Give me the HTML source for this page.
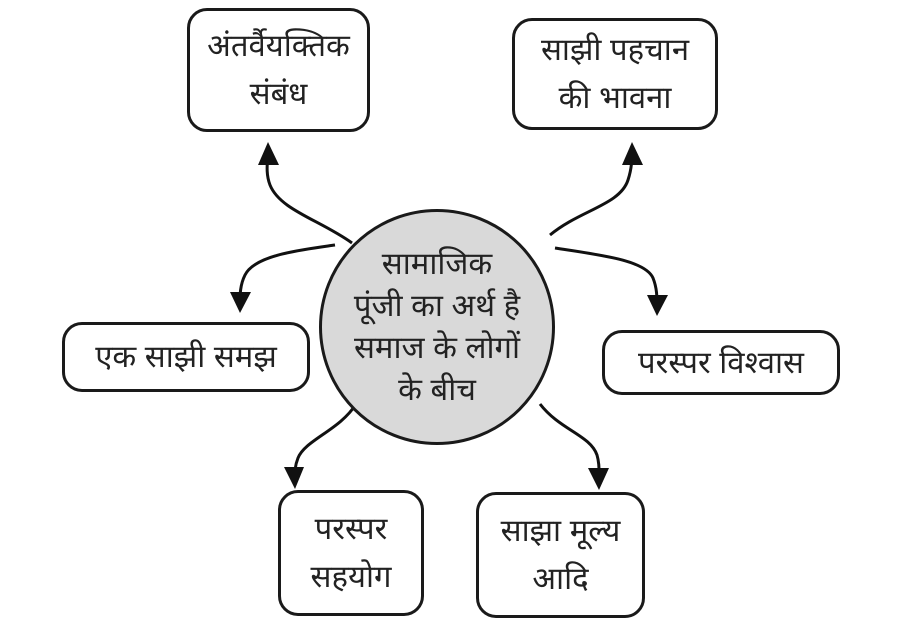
<!DOCTYPE html>
<html><head><meta charset="utf-8"><style>
html,body{margin:0;padding:0;background:#fff;}
body{width:905px;height:628px;position:relative;overflow:hidden;font-family:"Liberation Sans",sans-serif;}
.b{position:absolute;border:3px solid #1a1a1a;border-radius:20px;box-sizing:border-box;display:flex;align-items:center;justify-content:center;text-align:center;font-size:31px;line-height:48px;color:#222;background:#fff;font-weight:300;}
svg{position:absolute;left:0;top:0;}
.c{position:absolute;left:319px;top:209px;width:236px;height:236px;border:3px solid #1a1a1a;border-radius:50%;background:#d9d9d9;box-sizing:border-box;display:flex;align-items:center;justify-content:center;text-align:center;font-size:31px;line-height:42px;color:#222;font-weight:300;}
</style></head><body>
<svg width="905" height="628" viewBox="0 0 905 628">
<g fill="none" stroke="#111" stroke-width="3">
<path d="M352,243 C320,220 280,210 270,185 C265,172 268,160 268,150"/>
<path d="M550,235 C580,210 620,205 628,180 C632,168 632,158 632,150"/>
<path d="M335,245 C300,250 255,255 245,275 C240,285 240,295 240,303"/>
<path d="M555,248 C600,255 645,260 653,278 C657,288 657,297 657,306"/>
<path d="M356,404 C340,430 305,440 298,458 C294,468 295,475 295,480"/>
<path d="M540,404 C560,430 590,435 597,455 C600,465 599,474 599,480"/>
</g>
<g fill="#111">
<path d="M268,142 L258,165 L279,165 Z"/>
<path d="M632,142 L622,165 L643,165 Z"/>
<path d="M240,313 L230,292 L251,292 Z"/>
<path d="M657,316 L647,295 L668,295 Z"/>
<path d="M295,489 L284,467 L304,467 Z"/>
<path d="M599,490 L588,468 L609,468 Z"/>
</g>
</svg>
<div class="b" style="left:187px;top:8px;width:183px;height:124px;">अंतर्वैयक्तिक<br>संबंध</div>
<div class="b" style="left:512px;top:18px;width:206px;height:112px;">साझी पहचान<br>की भावना</div>
<div class="b" style="left:62px;top:322px;width:248px;height:70px;">एक साझी समझ</div>
<div class="b" style="left:602px;top:330px;width:238px;height:65px;">परस्पर विश्वास</div>
<div class="b" style="left:278px;top:490px;width:146px;height:126px;">परस्पर<br>सहयोग</div>
<div class="b" style="left:476px;top:492px;width:169px;height:126px;">साझा मूल्य<br>आदि</div>
<div class="c">सामाजिक<br>पूंजी का अर्थ है<br>समाज के लोगों<br>के बीच</div>
</body></html>
